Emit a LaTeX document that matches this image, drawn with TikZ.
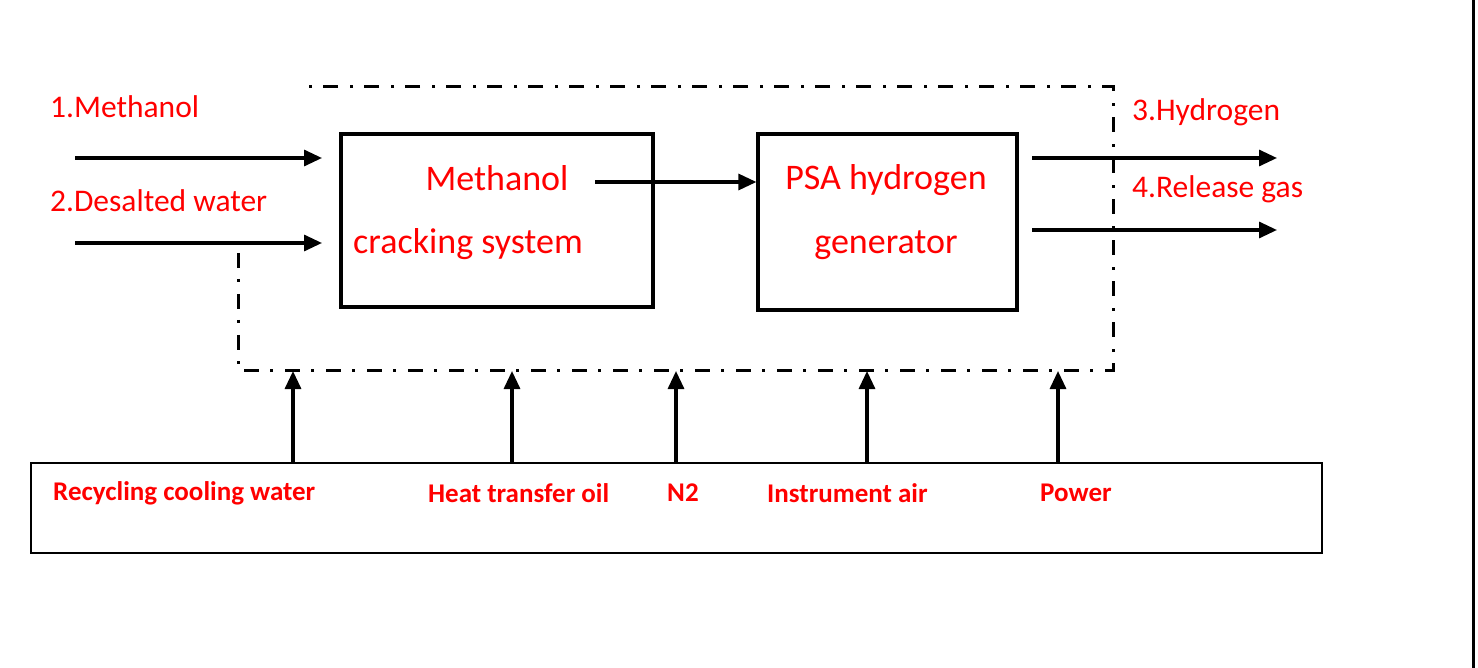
\documentclass[tikz,border=0pt]{standalone}
\usepackage{fontspec}
\setmainfont{Carlito}
\usetikzlibrary{arrows.meta}
\begin{document}
\begin{tikzpicture}[x=1pt,y=-1pt,
  flow/.style={line width=3.2pt,-{Triangle[length=18pt,width=16pt]}},
  unit/.style={draw,line width=3.2pt,minimum width=0pt,inner sep=0pt},
  dd/.style={line width=3pt,dash pattern=on 15pt off 11pt on 3pt off 12pt},
  lbl/.style={text=red,font=\fontsize{31.5}{36}\selectfont,anchor=west,inner sep=0pt},
  boxtxt/.style={text=red,font=\fontsize{36}{42}\selectfont,inner sep=0pt},
  util/.style={text=red,font=\bfseries\fontsize{27}{32}\selectfont,anchor=west,inner sep=0pt}]
\useasboundingbox (0,0) rectangle (1478,668);
\fill[white] (0,0) rectangle (1478,668);
% page edge line
\draw[line width=3pt] (1473,0) -- (1473,668);
% process units
\node[unit,minimum width=312pt,minimum height=173pt] (crack) at (497,220.5) {};
\node[unit,minimum width=259pt,minimum height=176pt] (psa) at (887.5,222) {};
\node[boxtxt] (t1) at (497,178) {Methanol};
\node[boxtxt] (t2) at (468,244) {cracking system};
\node[boxtxt] (t3) at (886,180) {PSA hydrogen};
\node[boxtxt] (t4) at (886,245) {generator};
% boundary dash-dot
\coordinate (b1) at (238,253);
\coordinate (b2) at (238,370);
\coordinate (b3) at (1113,370);
\coordinate (b4) at (1113,87);
\coordinate (b5) at (305,87);
\draw[dd] (b1) -- (b2) -- (b3) -- (b4) -- (b5);
% inputs
\node[lbl] (l1) at (50,107) {1.Methanol};
\node[lbl] (l2) at (50,201) {2.Desalted water};
\coordinate (i1) at (75,158);
\coordinate (i2) at (75,243);
\coordinate (e1) at (322,158);
\coordinate (e2) at (322,243);
\draw[flow] (i1) -- (e1);
\draw[flow] (i2) -- (e2);
% internal
\coordinate (m1) at (595,182);
\draw[flow] (m1) -- (psa.west |- m1);
% outputs
\node[lbl] (l3) at (1132,112) {3.Hydrogen};
\node[lbl] (l4) at (1132,189) {4.Release gas};
\coordinate (o1s) at (1032,158);
\coordinate (o1e) at (1277,158);
\coordinate (o2s) at (1032,230);
\coordinate (o2e) at (1277,230);
\draw[flow] (o1s) -- (o1e);
\draw[flow] (o2s) -- (o2e);
% utilities
\node[draw,line width=1.5pt,minimum width=1291pt,minimum height=90pt,inner sep=0pt] (utilbox) at (676.5,508) {};
\node[util] (u1) at (53,493) {Recycling cooling water};
\node[util] (u2) at (428,493) {Heat transfer oil};
\node[util] (u3) at (667,493) {N2};
\node[util] (u4) at (767,493) {Instrument air};
\node[util] (u5) at (1040,493) {Power};
\foreach \x/\n in {293/a,512/b,676/c,867/d,1058/e}{
  \coordinate (up\n) at (\x,371);
  \draw[flow] (utilbox.north -| up\n) -- (up\n);
}
\end{tikzpicture}
\end{document}
